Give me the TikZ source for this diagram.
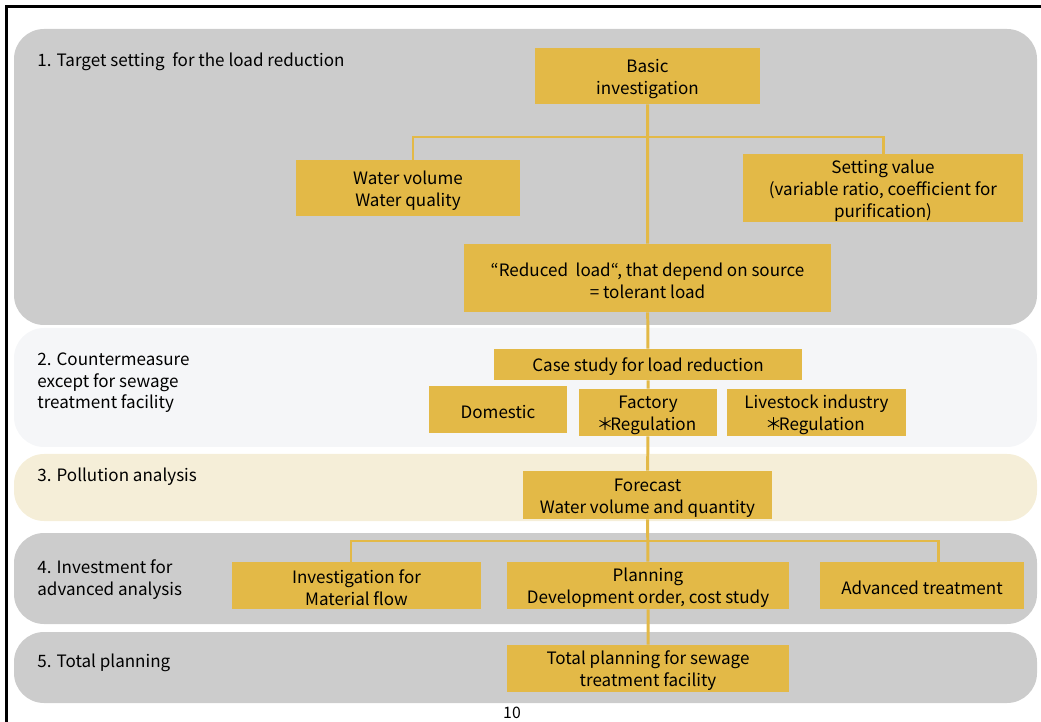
\documentclass[tikz,border=0pt]{standalone}
\usepackage{fontspec}
\setmainfont{Noto Sans CJK JP}
\usepackage{xcolor}
\usepackage{tikz}
\usetikzlibrary{positioning,calc}
\definecolor{bandgray}{HTML}{CCCCCC}
\definecolor{bandlight}{HTML}{F5F6F8}
\definecolor{bandcream}{HTML}{F5EED8}
\definecolor{boxgold}{HTML}{E3B947}
\newcommand{\tstrut}{\rule{0pt}{10.5pt}}
\newcommand{\regstar}{\hbox to 0.62em{\hss ＊\hss}}

\begin{document}
\begin{tikzpicture}[x=0.02cm, y=-0.02cm,
    band/.style={rounded corners=0.6cm},
    gbox/.style={fill=boxgold, inner sep=0pt, align=center, font=\fontsize{9.7}{12.5}\selectfont},
    link/.style={boxgold, line width=1.7pt},
    lbl/.style={anchor=north west, inner sep=0pt, align=left, font=\fontsize{9.7}{12.5}\selectfont}]
    \useasboundingbox (0,0) rectangle (1041,722);

    % Bands
    \fill[bandgray, band] (14,29) rectangle (1037,325);
    \fill[bandlight, band] (14,328) rectangle (1037,447);
    \fill[bandcream, band] (14,454) rectangle (1037,521);
    \fill[bandgray, band] (14,533) rectangle (1037,624);
    \fill[bandgray, band] (14,632) rectangle (1037,703);

    % Slide frame
    \draw[line width=0.06cm] (6.5,722) -- (6.5,6.5) -- (1041,6.5);

    % Stage titles
    \node[lbl] (stage1) at (37,52) {1. Target setting\ \ for the load reduction};
    \node[lbl] (stage2) at (37,352) {2. Countermeasure\\except for sewage\\treatment facility};
    \node[lbl] (stage3) at (37,468) {3. Pollution analysis};
    \node[lbl] (stage4) at (37,559) {4. Investment for\\advanced analysis};
    \node[lbl] (stage5) at (37,654) {5. Total planning};

    % Stage 1
    \node[gbox, minimum width=4.5cm, minimum height=1.12cm] (basic) at (647.5,76) {\tstrut Basic\\investigation};
    \node[gbox, minimum width=4.48cm, minimum height=1.12cm] (water) at (408,188) {\tstrut Water volume\\Water quality};
    \node[gbox, minimum width=5.6cm, minimum height=1.36cm] (setting) at (883,188) {\tstrut Setting value\\(variable ratio, coefficient for\\purification)};
    \node[gbox, minimum width=7.34cm, minimum height=1.36cm] (reduced) at (647.5,278) {\tstrut“Reduced\ \ load“, that depend on source\\= tolerant load};

    % Stage 2
    \node[gbox, minimum width=6.16cm, minimum height=0.62cm] (case) at (648,364.5) {\tstrut Case study for load reduction};
    \node[gbox, minimum width=2.76cm, minimum height=0.94cm] (domestic) at (498,409.5) {\tstrut Domestic};
    \node[gbox, minimum width=2.76cm, minimum height=0.94cm] (factory) at (648,412.5) {\tstrut Factory\\\regstar Regulation};
    \node[gbox, minimum width=3.58cm, minimum height=0.94cm] (livestock) at (816.5,412.5) {\tstrut Livestock industry\\\regstar Regulation};

    % Stage 3
    \node[gbox, minimum width=4.98cm, minimum height=0.96cm] (forecast) at (647.5,495) {\tstrut Forecast\\Water volume and quantity};

    % Stage 4
    \node[gbox, minimum width=4.98cm, minimum height=0.94cm] (matflow) at (356.5,585.5) {\tstrut Investigation for\\Material flow};
    \node[gbox, minimum width=5.64cm, minimum height=0.94cm] (planning) at (648,585.5) {\tstrut Planning\\Development order, cost study};
    \node[gbox, minimum width=4.08cm, minimum height=0.94cm] (adv) at (922,585.5) {\tstrut Advanced treatment};

    % Stage 5
    \node[gbox, minimum width=5.64cm, minimum height=0.94cm] (total) at (648,668.5) {\tstrut Total planning for sewage\\treatment facility};

    % Connectors
    \coordinate (fork1) at (647.5,137);
    \coordinate (fork2) at (647.5,541);
    \draw[link] (basic) -- (reduced) (reduced) -- (case) (case) -- (factory)
        (factory) -- (forecast) (forecast) -- (planning) (planning) -- (total);
    \draw[link] ([xshift=0.1cm]water.north) |- (fork1) -| (setting.north);
    \draw[link] ([xshift=-0.11cm]matflow.north) |- (fork2) -| ([xshift=0.32cm]adv.north);

    \node[inner sep=0pt, font=\fontsize{9}{10}\selectfont] (pagenum) at (512,713) {10};
\end{tikzpicture}
\end{document}
